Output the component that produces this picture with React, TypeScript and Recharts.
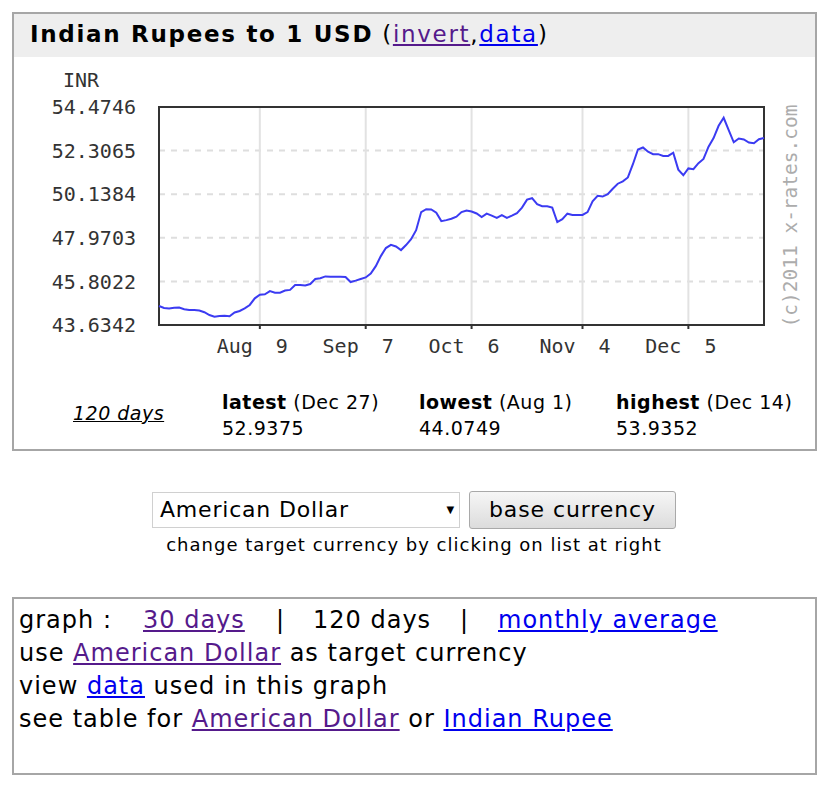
import { LineChart, Line, XAxis, YAxis, CartesianGrid, ReferenceArea } from 'recharts';

// INR per 1 USD, one reading per step (121 points, oldest first)
const rates = [
  44.58, 44.48, 44.46, 44.49, 44.5, 44.42, 44.38, 44.38, 44.35, 44.27,
  44.13, 44.05, 44.08, 44.1, 44.07, 44.26, 44.33, 44.46, 44.63, 44.96,
  45.14, 45.16, 45.32, 45.24, 45.24, 45.35, 45.38, 45.62, 45.62, 45.6,
  45.67, 45.92, 45.96, 46.05, 46.03, 46.03, 46.03, 46.02, 45.77, 45.84,
  45.92, 46.0, 46.19, 46.56, 47.06, 47.46, 47.62, 47.54, 47.36, 47.61,
  47.9, 48.35, 49.25, 49.39, 49.38, 49.22, 48.8, 48.85, 48.92, 49.02,
  49.25, 49.33, 49.28, 49.18, 49.0, 49.17, 49.07, 48.96, 49.1, 48.96,
  49.07, 49.2, 49.47, 49.87, 49.94, 49.64, 49.54, 49.54, 49.47, 48.75,
  48.9, 49.17, 49.11, 49.11, 49.11, 49.25, 49.79, 50.06, 50.02, 50.14,
  50.41, 50.66, 50.78, 50.97, 51.63, 52.36, 52.46, 52.25, 52.13, 52.13,
  52.04, 52.04, 52.2, 51.36, 51.08, 51.42, 51.38, 51.68, 51.89, 52.5,
  52.93, 53.54, 53.94, 53.33, 52.72, 52.91, 52.86, 52.71, 52.67, 52.87,
  52.94,
];

const yTicks = [43.6342, 45.8022, 47.9703, 50.1384, 52.3065, 54.4746];
const xTickIdx = [20, 41, 62, 84, 105];
const xTickLabels = ['Aug 9', 'Sep 7', 'Oct 6', 'Nov 4', 'Dec 5'];

const stats = [
  { label: 'latest', when: '(Dec 27)', value: '52.9375', left: 222 },
  { label: 'lowest', when: '(Aug 1)', value: '44.0749', left: 419 },
  { label: 'highest', when: '(Dec 14)', value: '53.9352', left: 616 },
];

const data = rates.map((v, i) => ({ i, v }));

const MONO = '"DejaVu Sans Mono", monospace';
const SANS = '"DejaVu Sans", Verdana, sans-serif';
const PURPLE = '#551a8b';
const BLUE = '#0000ee';

const DateTick = (props: any) => {
  const { x, y, payload } = props;
  const k = xTickIdx.indexOf(payload.value);
  const [mon, day] = (xTickLabels[k] || '').split(' ');
  return (
    <g>
      <text x={x - 7} y={y + 22} textAnchor="end" fontFamily={MONO} fontSize={20} fill="#333">
        {mon}
      </text>
      <text x={x + 16} y={y + 22} textAnchor="start" fontFamily={MONO} fontSize={20} fill="#333">
        {day}
      </text>
    </g>
  );
};

const abs = (left: number, top: number, extra: any = {}) => ({
  position: 'absolute' as const,
  left,
  top,
  whiteSpace: 'nowrap' as const,
  ...extra,
});

const App = () => {
  return (
    <div style={{ position: 'absolute', left: 0, top: 0, width: 828, height: 787, background: '#fff', fontFamily: SANS, color: '#000' }}>
      {/* chart box */}
      <div style={{ position: 'absolute', left: 12, top: 12, width: 805, height: 439, border: '2px solid #a6a6a6', boxSizing: 'border-box' }}>
        <div style={{ height: 43, background: '#eeeeee' }} />
      </div>
      <div style={abs(30, 17, { fontSize: 23, lineHeight: '34px', letterSpacing: 1.7 })}>
        <b>Indian Rupees to 1 USD</b> (<span style={{ color: PURPLE, textDecoration: 'underline' }}>invert</span>,<span style={{ color: BLUE, textDecoration: 'underline' }}>data</span>)
      </div>

      <div style={abs(63, 67, { fontFamily: MONO, fontSize: 20, color: '#333', lineHeight: '26px' })}>INR</div>

      <div style={{ position: 'absolute', left: 0, top: 0 }}>
        <LineChart width={828} height={460} data={data} margin={{ top: 107, right: 64, left: 59, bottom: 95 }}>
          <CartesianGrid vertical={false} stroke="#dedede" strokeWidth={2} strokeDasharray="6 6" />
          <CartesianGrid horizontal={false} stroke="#e2e2e2" strokeWidth={2} />
          <XAxis
            dataKey="i"
            type="number"
            domain={[0, 120]}
            ticks={xTickIdx}
            height={40}
            axisLine={false}
            tickLine={{ stroke: '#333', strokeWidth: 2 }}
            tickSize={4}
            tick={<DateTick />}
            interval={0}
          />
          <YAxis
            type="number"
            domain={[yTicks[0], yTicks[yTicks.length - 1]]}
            ticks={yTicks}
            width={100}
            axisLine={false}
            tickLine={false}
            tickMargin={17}
            interval={0}
            tickFormatter={(v: number) => v.toFixed(4)}
            tick={{ fontFamily: MONO, fontSize: 20, fill: '#333' }}
          />
          <ReferenceArea
            x1={0}
            x2={120}
            y1={yTicks[0]}
            y2={yTicks[yTicks.length - 1]}
            fill="none"
            stroke="#333"
            strokeWidth={2}
            ifOverflow="visible"
          />
          <Line type="linear" dataKey="v" stroke="#3b3bf2" strokeWidth={2} dot={false} isAnimationActive={false} />
        </LineChart>
      </div>

      <div
        style={abs(790, 216, {
          transform: 'translate(-50%, -50%) rotate(-90deg)',
          fontFamily: MONO,
          fontSize: 19.5,
          color: '#acacac',
        })}
      >
        (c)2011 x-rates.com
      </div>

      <div style={abs(73, 402, { fontSize: 19, fontStyle: 'italic', textDecoration: 'underline', letterSpacing: 0.5 })}>120 days</div>
      {stats.map((s) => (
        <div key={s.label} style={abs(s.left, 389, { fontSize: 19, lineHeight: '26px', letterSpacing: 0.5 })}>
          <div>
            <b>{s.label}</b> {s.when}
          </div>
          <div>{s.value}</div>
        </div>
      ))}

      {/* currency picker */}
      <div
        style={abs(152, 492, {
          width: 308,
          height: 36,
          border: '1px solid #d0d0d0',
          boxSizing: 'border-box',
          fontSize: 22,
          lineHeight: '34px',
          paddingLeft: 7,
          letterSpacing: 0.8,
        })}
      >
        American Dollar
        <span style={{ position: 'absolute', right: 4, top: 0, fontSize: 10 }}>▼</span>
      </div>
      <div
        style={abs(469, 491, {
          width: 207,
          height: 38,
          border: '1px solid #a9a9a9',
          borderRadius: 3,
          boxSizing: 'border-box',
          background: 'linear-gradient(#f6f6f6, #dcdcdc)',
          fontSize: 22,
          lineHeight: '36px',
          textAlign: 'center',
          letterSpacing: 0.9,
        })}
      >
        base currency
      </div>
      <div style={abs(0, 533, { width: 828, textAlign: 'center', fontSize: 18, lineHeight: '24px', letterSpacing: 1 })}>
        change target currency by clicking on list at right
      </div>

      {/* links box */}
      <div style={{ position: 'absolute', left: 12, top: 597, width: 805, height: 178, border: '2px solid #a6a6a6', boxSizing: 'border-box' }} />
      <div style={{ position: 'absolute', left: 19, top: 604, fontSize: 24, lineHeight: '33px', letterSpacing: 1 }}>
        <div style={{ position: 'relative', height: 33 }}>
          <span style={abs(0, 0)}>graph :</span>
          <span style={abs(124, 0, { color: PURPLE, textDecoration: 'underline' })}>30 days</span>
          <span style={abs(257, 0)}>|</span>
          <span style={abs(294, 0)}>120 days</span>
          <span style={abs(441, 0)}>|</span>
          <span style={abs(479, 0, { color: BLUE, textDecoration: 'underline' })}>monthly average</span>
        </div>
        <div style={{ whiteSpace: 'nowrap' }}>
          use <span style={{ color: PURPLE, textDecoration: 'underline' }}>American Dollar</span> as target currency
        </div>
        <div style={{ whiteSpace: 'nowrap' }}>
          view <span style={{ color: BLUE, textDecoration: 'underline' }}>data</span> used in this graph
        </div>
        <div style={{ whiteSpace: 'nowrap' }}>
          see table for <span style={{ color: PURPLE, textDecoration: 'underline' }}>American Dollar</span> or{' '}
          <span style={{ color: BLUE, textDecoration: 'underline' }}>Indian Rupee</span>
        </div>
      </div>
    </div>
  );
};

export default App;
